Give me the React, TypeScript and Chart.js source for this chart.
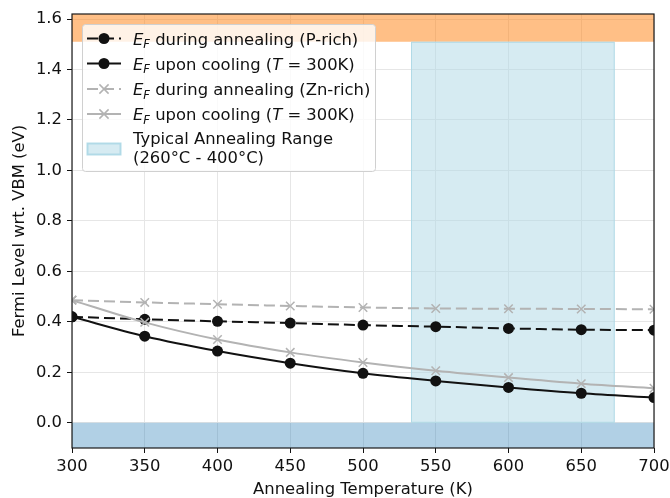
import React, { useEffect, useRef } from 'react';
import { Chart, registerables } from 'chart.js';

Chart.register(...registerables);

// ---------------- data ----------------
const temperatures = [300, 350, 400, 450, 500, 550, 600, 650, 700];
const pRichAnnealing = [0.42, 0.41, 0.402, 0.395, 0.387, 0.381, 0.374, 0.369, 0.367];
const pRichCooling = [0.42, 0.343, 0.284, 0.236, 0.196, 0.166, 0.14, 0.117, 0.1];
const znRichAnnealing = [0.486, 0.477, 0.47, 0.463, 0.457, 0.453, 0.452, 0.451, 0.45];
const znRichCooling = [0.486, 0.398, 0.33, 0.279, 0.239, 0.206, 0.179, 0.155, 0.137];
const xTicks = [300, 350, 400, 450, 500, 550, 600, 650, 700];
const yTicks = [0, 0.2, 0.4, 0.6, 0.8, 1.0, 1.2, 1.4, 1.6];
const xRange = [300, 700];
const yRange = [-0.1, 1.62];
const bandGap = 1.51;
const annealingRange = [533, 673];

const FONT = "'DejaVu Sans', sans-serif";
const FS = 16.4;
const BLACK = '#111111';
const GREY = '#b3b3b3';
const DASH = [11, 5];

const toPoints = (ys: number[]) => temperatures.map((x, i) => ({ x, y: ys[i] }));

type Part = { t: string; s?: 'i' | 'sub' };

function drawRich(ctx: CanvasRenderingContext2D, parts: Part[], x: number, y: number) {
  let cx = x;
  for (const p of parts) {
    if (p.s === 'sub') {
      ctx.font = `italic ${FS * 0.7}px ${FONT}`;
      ctx.fillText(p.t, cx, y + 3.6);
      cx += ctx.measureText(p.t).width;
    } else if (p.s === 'i') {
      ctx.font = `italic ${FS}px ${FONT}`;
      ctx.fillText(p.t, cx, y);
      cx += ctx.measureText(p.t).width;
    } else {
      ctx.font = `${FS}px ${FONT}`;
      ctx.fillText(p.t, cx, y);
      cx += ctx.measureText(p.t).width;
    }
  }
}

function drawMarker(ctx: CanvasRenderingContext2D, kind: string, color: string, x: number, y: number) {
  ctx.save();
  ctx.setLineDash([]);
  if (kind === 'circle') {
    ctx.fillStyle = color;
    ctx.beginPath();
    ctx.arc(x, y, 5.5, 0, Math.PI * 2);
    ctx.fill();
  } else {
    ctx.strokeStyle = color;
    ctx.lineWidth = 1.5;
    const r = 4.6;
    ctx.beginPath();
    ctx.moveTo(x - r, y - r);
    ctx.lineTo(x + r, y + r);
    ctx.moveTo(x - r, y + r);
    ctx.lineTo(x + r, y - r);
    ctx.stroke();
  }
  ctx.restore();
}

const bandsPlugin = {
  id: 'bands',
  beforeDatasetsDraw(chart: any) {
    const { ctx, chartArea, scales } = chart;
    const xs = scales.x;
    const ys = scales.y;
    ctx.save();
    ctx.beginPath();
    ctx.rect(chartArea.left, chartArea.top, chartArea.right - chartArea.left, chartArea.bottom - chartArea.top);
    ctx.clip();
    const yGap = ys.getPixelForValue(bandGap);
    ctx.fillStyle = 'rgba(255,127,14,0.5)';
    ctx.fillRect(chartArea.left, chartArea.top, chartArea.right - chartArea.left, yGap - chartArea.top);
    const y0 = ys.getPixelForValue(0);
    ctx.fillStyle = 'rgba(31,119,180,0.35)';
    ctx.fillRect(chartArea.left, y0, chartArea.right - chartArea.left, chartArea.bottom - y0);
    const xa = xs.getPixelForValue(annealingRange[0]);
    const xb = xs.getPixelForValue(annealingRange[1]);
    ctx.fillStyle = 'rgba(173,216,230,0.5)';
    ctx.fillRect(xa, yGap, xb - xa, y0 - yGap);
    ctx.strokeStyle = 'rgba(173,216,230,0.9)';
    ctx.lineWidth = 1;
    ctx.strokeRect(xa + 0.5, yGap + 0.5, xb - xa - 1, y0 - yGap - 1);
    ctx.restore();
  },
};

const framePlugin = {
  id: 'frame',
  afterDatasetsDraw(chart: any) {
    const { ctx, chartArea } = chart;
    ctx.save();
    ctx.strokeStyle = '#1a1a1a';
    ctx.lineWidth = 1.2;
    ctx.strokeRect(chartArea.left, chartArea.top, chartArea.right - chartArea.left, chartArea.bottom - chartArea.top);
    ctx.restore();
  },
};

const legendPlugin = {
  id: 'customLegend',
  afterDraw(chart: any) {
    const ctx: CanvasRenderingContext2D = chart.ctx;
    ctx.save();
    const bx = 82.5, by = 24.5, bw = 293, bh = 147, r = 3;
    ctx.beginPath();
    ctx.moveTo(bx + r, by);
    ctx.lineTo(bx + bw - r, by);
    ctx.arcTo(bx + bw, by, bx + bw, by + r, r);
    ctx.lineTo(bx + bw, by + bh - r);
    ctx.arcTo(bx + bw, by + bh, bx + bw - r, by + bh, r);
    ctx.lineTo(bx + r, by + bh);
    ctx.arcTo(bx, by + bh, bx, by + bh - r, r);
    ctx.lineTo(bx, by + r);
    ctx.arcTo(bx, by, bx + r, by, r);
    ctx.closePath();
    ctx.fillStyle = 'rgba(255,255,255,0.8)';
    ctx.fill();
    ctx.strokeStyle = '#d0d0d0';
    ctx.lineWidth = 1;
    ctx.stroke();

    const items = [
      { color: BLACK, dash: DASH, marker: 'circle', y: 38.5, parts: [{ t: 'E', s: 'i' }, { t: 'F', s: 'sub' }, { t: ' during annealing (P-rich)' }] },
      { color: BLACK, dash: [], marker: 'circle', y: 63.5, parts: [{ t: 'E', s: 'i' }, { t: 'F', s: 'sub' }, { t: ' upon cooling (' }, { t: 'T', s: 'i' }, { t: ' = 300K)' }] },
      { color: GREY, dash: DASH, marker: 'cross', y: 89, parts: [{ t: 'E', s: 'i' }, { t: 'F', s: 'sub' }, { t: ' during annealing (Zn-rich)' }] },
      { color: GREY, dash: [], marker: 'cross', y: 114, parts: [{ t: 'E', s: 'i' }, { t: 'F', s: 'sub' }, { t: ' upon cooling (' }, { t: 'T', s: 'i' }, { t: ' = 300K)' }] },
    ];
    ctx.textBaseline = 'alphabetic';
    ctx.textAlign = 'left';
    for (const it of items) {
      ctx.strokeStyle = it.color;
      ctx.lineWidth = 2;
      ctx.setLineDash(it.dash);
      ctx.beginPath();
      ctx.moveTo(87, it.y);
      ctx.lineTo(121, it.y);
      ctx.stroke();
      ctx.setLineDash([]);
      drawMarker(ctx, it.marker, it.color, 104, it.y);
      ctx.fillStyle = '#111';
      drawRich(ctx, it.parts as Part[], 133, it.y + 6);
    }
    ctx.fillStyle = 'rgba(173,216,230,0.5)';
    ctx.fillRect(87, 143, 34, 12);
    ctx.strokeStyle = 'rgba(173,216,230,0.9)';
    ctx.strokeRect(87.5, 143.5, 33, 11);
    ctx.fillStyle = '#111';
    ctx.font = `${FS}px ${FONT}`;
    ctx.fillText('Typical Annealing Range', 133, 144);
    ctx.fillText('(260°C - 400°C)', 133, 163);
    ctx.restore();
  },
};

export default function App() {
  const ref = useRef<HTMLCanvasElement | null>(null);

  useEffect(() => {
    document.body.style.margin = '0';
    const canvas = ref.current;
    if (!canvas) return;
    const tickFont = { family: FONT, size: FS };
    const chart = new Chart(canvas, {
      type: 'line',
      data: {
        datasets: [
          {
            label: 'EF during annealing (P-rich)',
            data: toPoints(pRichAnnealing),
            borderColor: BLACK,
            backgroundColor: BLACK,
            borderWidth: 2,
            borderDash: DASH,
            pointStyle: 'circle',
            pointRadius: 5.5,
            pointBorderWidth: 0,
            cubicInterpolationMode: 'monotone',
            clip: 0,
            order: 3,
          },
          {
            label: 'EF upon cooling (T = 300K)',
            data: toPoints(pRichCooling),
            borderColor: BLACK,
            backgroundColor: BLACK,
            borderWidth: 2,
            pointStyle: 'circle',
            pointRadius: 5.5,
            pointBorderWidth: 0,
            cubicInterpolationMode: 'monotone',
            clip: 0,
            order: 2,
          },
          {
            label: 'EF during annealing (Zn-rich)',
            data: toPoints(znRichAnnealing),
            borderColor: GREY,
            backgroundColor: GREY,
            borderWidth: 2,
            borderDash: DASH,
            pointStyle: 'crossRot',
            pointRadius: 6,
            pointBorderWidth: 1.5,
            cubicInterpolationMode: 'monotone',
            clip: 0,
            order: 1,
          },
          {
            label: 'EF upon cooling (T = 300K)',
            data: toPoints(znRichCooling),
            borderColor: GREY,
            backgroundColor: GREY,
            borderWidth: 2,
            pointStyle: 'crossRot',
            pointRadius: 6,
            pointBorderWidth: 1.5,
            cubicInterpolationMode: 'monotone',
            clip: 0,
            order: 0,
          },
        ],
      } as any,
      options: {
        responsive: false,
        animation: false,
        devicePixelRatio: 1,
        layout: { padding: { top: 14, right: 16, left: 0, bottom: 0 } },
        plugins: { legend: { display: false }, tooltip: { enabled: false } },
        scales: {
          x: {
            type: 'linear',
            min: xRange[0],
            max: xRange[1],
            afterBuildTicks: (s: any) => {
              s.ticks = xTicks.map((v) => ({ value: v }));
            },
            afterFit: (s: any) => {
              s.height = 50;
              s.paddingLeft = 0;
              s.paddingRight = 0;
            },
            grid: { color: '#e6e6e6', tickColor: '#111', tickLength: 5, lineWidth: 1 },
            border: { display: false },
            ticks: { font: tickFont, color: '#111', padding: 4, maxRotation: 0, autoSkip: false, callback: (v: any) => String(v) },
            title: {
              display: true,
              text: 'Annealing Temperature (K)',
              font: { family: FONT, size: FS, lineHeight: 1 },
              color: '#111',
              padding: { top: 0, bottom: 0 },
            },
          },
          y: {
            type: 'linear',
            min: yRange[0],
            max: yRange[1],
            afterBuildTicks: (s: any) => {
              s.ticks = yTicks.map((v) => ({ value: v }));
            },
            afterFit: (s: any) => {
              s.width = 72;
              s.paddingTop = 0;
              s.paddingBottom = 0;
            },
            grid: { color: '#e6e6e6', tickColor: '#111', tickLength: 5, lineWidth: 1 },
            border: { display: false },
            ticks: { font: tickFont, color: '#111', padding: 5, autoSkip: false, callback: (v: any) => Number(v).toFixed(1) },
            title: {
              display: true,
              text: 'Fermi Level wrt. VBM (eV)',
              font: { family: FONT, size: FS, lineHeight: 1.2 },
              color: '#111',
              padding: { top: 10, bottom: 0 },
            },
          },
        },
      } as any,
      plugins: [bandsPlugin, framePlugin, legendPlugin],
    });
    return () => chart.destroy();
  }, []);

  return (
    <div style={{ position: 'absolute', left: 0, top: 0, width: 670, height: 498 }}>
      <canvas ref={ref} width={670} height={498} style={{ width: 670, height: 498, display: 'block' }} />
    </div>
  );
}
